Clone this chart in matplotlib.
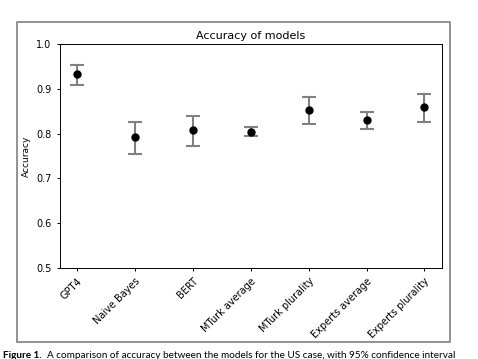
import matplotlib
matplotlib.use('Agg')
import matplotlib.pyplot as plt
from matplotlib.patches import Rectangle

# Accuracy per model with 95% confidence interval bounds
models = ['GPT4', 'Naive Bayes', 'BERT', 'MTurk average', 'MTurk plurality',
          'Experts average', 'Experts plurality']
accuracy = [0.934, 0.792, 0.808, 0.804, 0.854, 0.830, 0.860]
ci_low = [0.909, 0.755, 0.772, 0.794, 0.821, 0.811, 0.827]
ci_high = [0.954, 0.826, 0.840, 0.816, 0.882, 0.849, 0.888]

caption_head = 'Figure 1.'
caption_body = 'A comparison of accuracy between the models for the US case, with 95% confidence interval'

W, H = 478, 359
fig = plt.figure(figsize=(W / 100, H / 100), dpi=100)

# grey frame of the screenshot around the figure
fig.patches.append(Rectangle((17 / W, 1 - 342 / H), (450 - 17) / W, (342 - 22) / H,
                             transform=fig.transFigure, fill=False,
                             edgecolor='#808080', lw=1.2))

ax = fig.add_axes([60 / W, 1 - 267.7 / H, (441.7 - 60) / W, (267.7 - 44.3) / H])

x = range(len(models))
err_lo = [a - l for a, l in zip(accuracy, ci_low)]
err_hi = [h - a for a, h in zip(accuracy, ci_high)]
ax.errorbar(x, accuracy, yerr=[err_lo, err_hi], fmt='o', color='black',
            ecolor='gray', elinewidth=1.5, capsize=5, capthick=1.5, markersize=5)

ax.set_ylim(0.5, 1.0)
ax.set_yticks([0.5, 0.6, 0.7, 0.8, 0.9, 1.0])
ax.set_xticks(list(x))
ax.set_xticklabels(models, rotation=45, ha='right', rotation_mode='anchor')
ax.tick_params(labelsize=7, length=2.5, width=0.7)
for s in ax.spines.values():
    s.set_linewidth(0.7)
ax.set_ylabel('Accuracy', fontsize=6.5, labelpad=4)
ax.set_title('Accuracy of models', fontsize=8, pad=4)

# caption below the frame, bold label then plain text
cap_y = 1 - 357.5 / H
head = fig.text(3 / W, cap_y, caption_head, fontsize=7.2, family='Lato',
                weight='bold', ha='left', va='baseline')
fig.canvas.draw()
bb = head.get_window_extent(fig.canvas.get_renderer())
fig.text((bb.x1 + 5) / W, cap_y, caption_body, fontsize=7.2, family='Lato',
         ha='left', va='baseline')

fig.savefig('out.png', dpi=100)
